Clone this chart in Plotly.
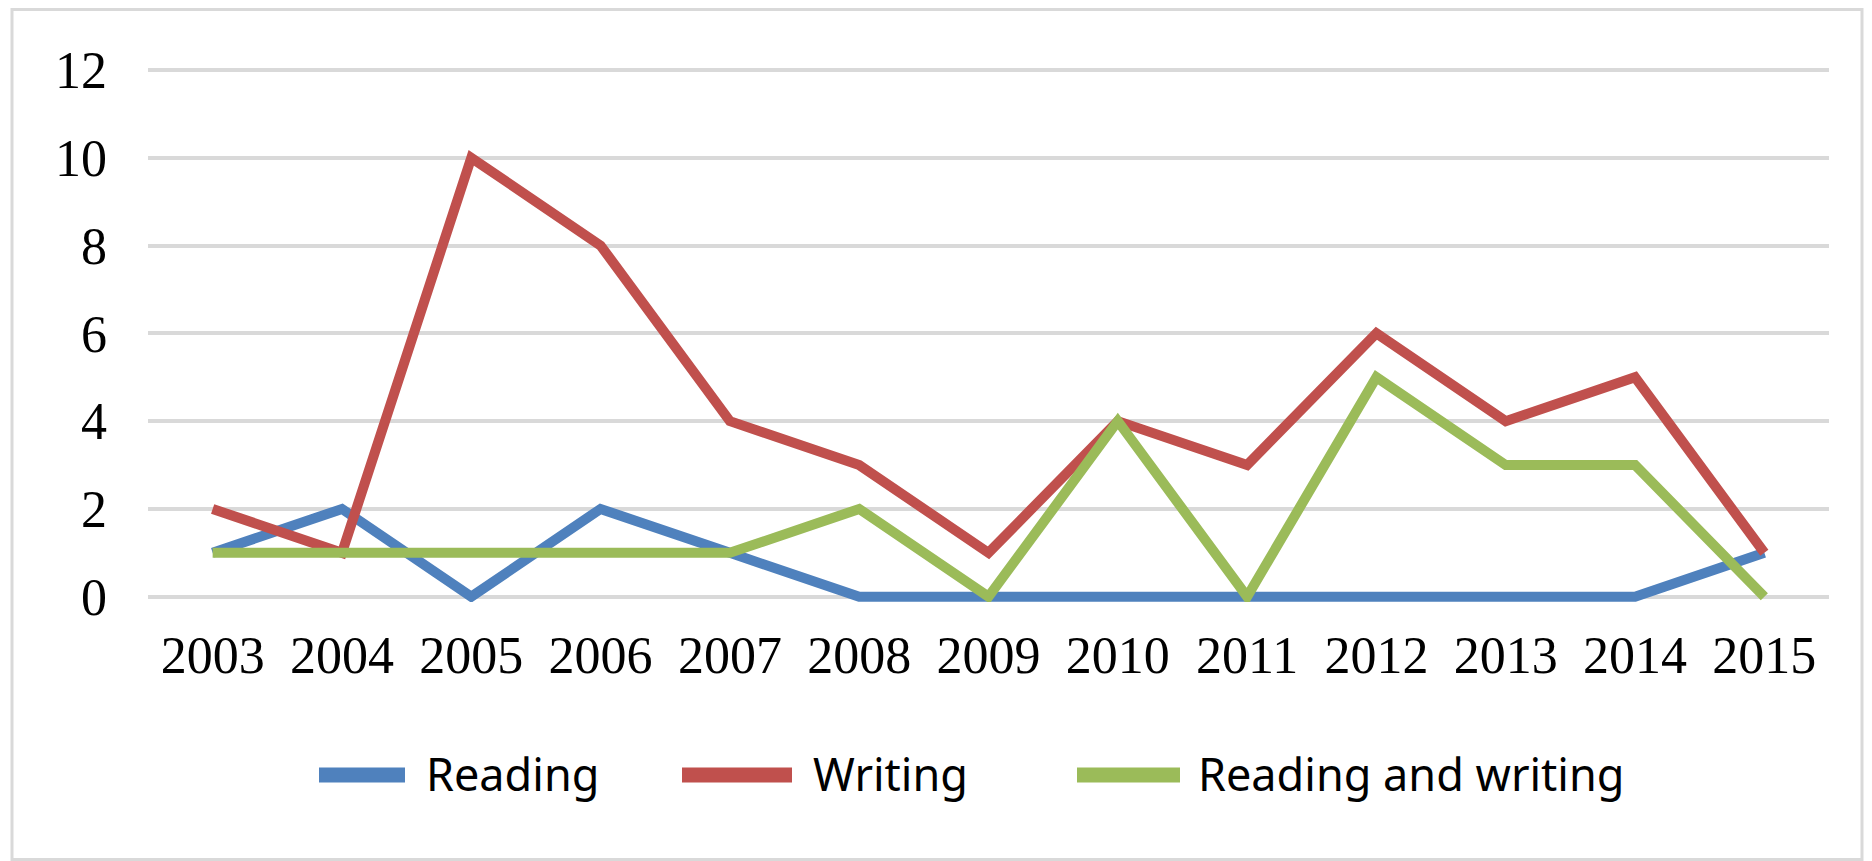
import plotly.graph_objects as go

years = ["2003", "2004", "2005", "2006", "2007", "2008", "2009", "2010", "2011", "2012", "2013", "2014", "2015"]
reading = [1, 2, 0, 2, 1, 0, 0, 0, 0, 0, 0, 0, 1]
writing = [2, 1, 10, 8, 4, 3, 1, 4, 3, 6, 4, 5, 1]
reading_and_writing = [1, 1, 1, 1, 1, 2, 0, 4, 0, 5, 3, 3, 0]

series_names = ["Reading", "Writing", "Reading and writing"]
series_values = [reading, writing, reading_and_writing]
series_colors = ["#4F81BD", "#C0504D", "#9BBB59"]

fig = go.Figure()
for name, vals, color in zip(series_names, series_values, series_colors):
    fig.add_trace(go.Scatter(
        x=years, y=vals, mode="lines", name=name,
        line=dict(color=color, width=10),
        showlegend=False,
    ))

# page body adds an 8px offset; positions below are in screen px
OFF = 8
W, H = 1872, 861
L, R, T, B = 148 - OFF, 43 + OFF, 66 - OFF, 259 + OFF
pw = W - L - R
ph = H - T - B

def px_x(x):
    return (x - OFF - L) / pw

def px_y(y):
    return (H - B - (y - OFF)) / ph

shapes = [dict(
    type="rect", xref="paper", yref="paper",
    x0=px_x(12), x1=px_x(1862), y0=px_y(859.5), y1=px_y(9.5),
    line=dict(color="#d9d9d9", width=3), fillcolor="rgba(0,0,0,0)",
    layer="below",
)]
annotations = []

legend_sym = [(319, 405), (682, 792), (1077, 1180)]
legend_text_x = [424, 811, 1196]
legend_y = 775
for (sx0, sx1), tx, name, color in zip(legend_sym, legend_text_x, series_names, series_colors):
    shapes.append(dict(
        type="line", xref="paper", yref="paper",
        x0=px_x(sx0), x1=px_x(sx1), y0=px_y(legend_y), y1=px_y(legend_y),
        line=dict(color=color, width=15),
    ))
    annotations.append(dict(
        xref="paper", yref="paper", x=px_x(tx), y=px_y(legend_y - 2),
        xanchor="left", yanchor="middle", showarrow=False,
        text=name, font=dict(family="Noto Sans", size=45, color="black"),
    ))

fig.update_layout(
    width=W, height=H,
    margin=dict(l=L, r=R, t=T, b=B),
    paper_bgcolor="white", plot_bgcolor="white",
    showlegend=False,
    xaxis=dict(
        type="category", range=[-0.5, 12.5],
        showgrid=False, showline=False, zeroline=False, ticks="",
        tickfont=dict(family="Liberation Serif", size=52, color="black"),
        ticklabelstandoff=18,
    ),
    yaxis=dict(
        range=[-0.12, 12.09], tickvals=[0, 2, 4, 6, 8, 10, 12],
        showgrid=True, gridcolor="#d9d9d9", gridwidth=3.5,
        zeroline=False, showline=False, ticks="",
        tickfont=dict(family="Liberation Serif", size=52, color="black"),
        ticklabelstandoff=40,
    ),
    shapes=shapes,
    annotations=annotations,
)

fig.write_html("out.html")
